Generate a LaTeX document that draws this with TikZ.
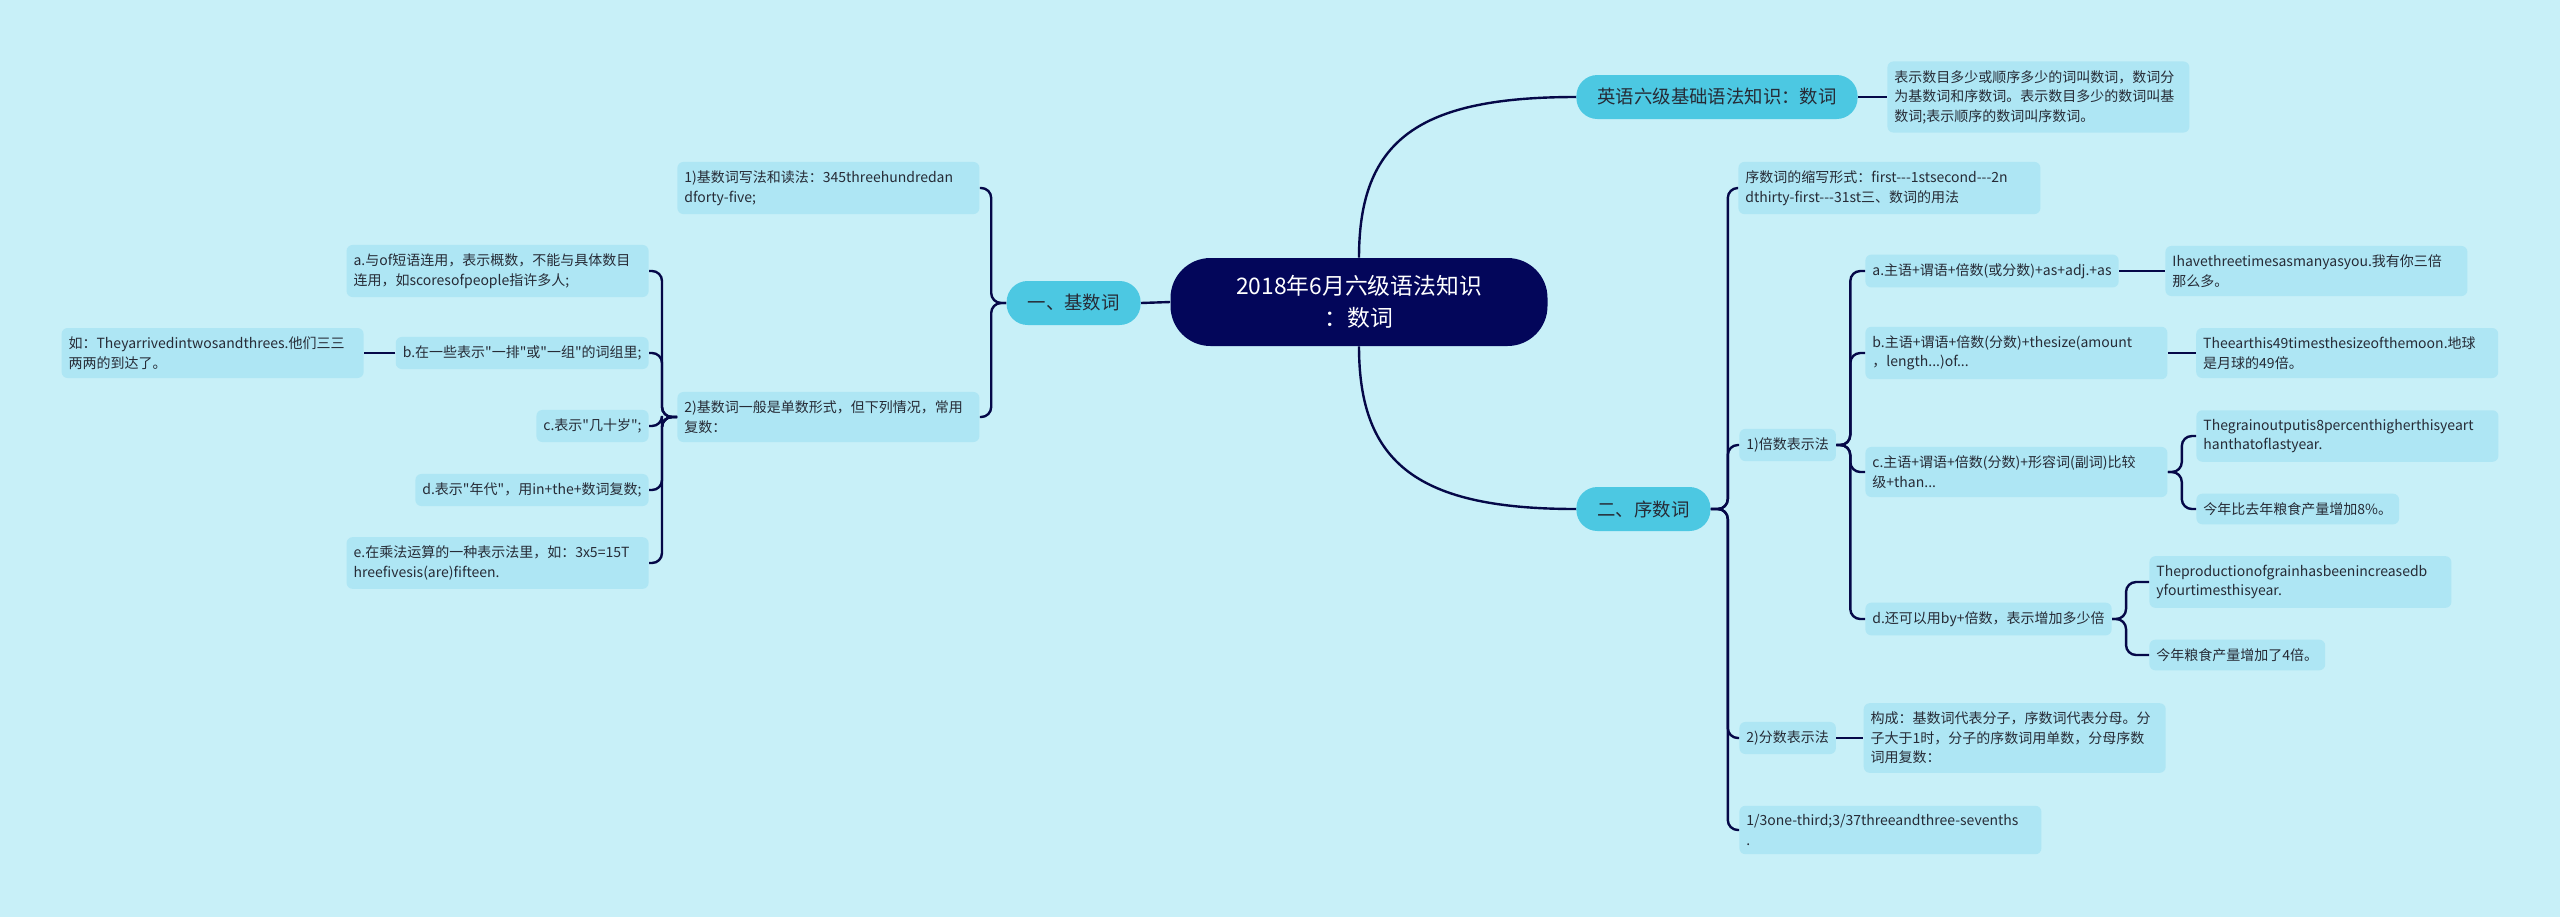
\documentclass[tikz,border=0pt]{standalone}
\usepackage{fontspec}
\setmainfont{Noto Sans CJK SC}[Ligatures=TeXOff]
\usepackage{xcolor}
\usepackage{tikz}
\usetikzlibrary{positioning}

\definecolor{bgc}{HTML}{C8F0F8}
\definecolor{rootc}{HTML}{03065A}
\definecolor{topicc}{HTML}{4CC8E2}
\definecolor{leafc}{HTML}{AEE6F4}
\definecolor{linec}{HTML}{050848}
\definecolor{textc}{HTML}{262B36}

\hyphenpenalty=10000
\exhyphenpenalty=10000

\begin{document}
\begin{tikzpicture}[
x=0.5pt, y=-0.5pt,
rootnode/.style={
fill=rootc,
text=white,
rounded corners=20pt,
align=center,
minimum width=188.5pt,
minimum height=44pt,
font=\fontsize{11.4}{16}\selectfont
},
topic/.style={
fill=topicc,
text=textc,
rounded corners=10.5pt,
inner xsep=10.5pt,
minimum height=22pt,
font=\fontsize{9.2}{11}\selectfont
},
leaf/.style={
fill=leafc,
text=textc,
rounded corners=3pt,
inner xsep=3.5pt,
inner ysep=4.4pt,
align=left,
font=\fontsize{7}{9.75}\selectfont
},
wideleaf/.style={leaf, text width=144pt},
link/.style={draw=linec, line width=1.2pt},
bracket/.style={link, rounded corners=5pt}
]

\path[use as bounding box, fill=bgc] (0,0) rectangle (2560,917);

\node[rootnode] (root) at (1359,302) {2018年6月六级语法知识\\：数词};

\node[topic, anchor=west] (intro) at (1576,97) {英语六级基础语法知识：数词};
\node[wideleaf, right=14.5pt of intro] (introtext) {表示数目多少或顺序多少的词叫数词，数词分\\为基数词和序数词。表示数目多少的数词叫基\\数词;表示顺序的数词叫序数词。};

\node[topic, anchor=east] (cardinal) at (1141,303) {一、基数词};
\node[wideleaf, anchor=west] (cardread) at (677,188) {1)基数词写法和读法：345threehundredan\\dforty-five;};
\node[wideleaf, anchor=west] (cardplural) at (677,417) {2)基数词一般是单数形式，但下列情况，常用\\复数：};
\node[wideleaf, anchor=east] (plurala) at (649,271) {a.与of短语连用，表示概数，不能与具体数目\\连用，如scoresofpeople指许多人;};
\node[leaf, anchor=east] (pluralb) at (649,353) {b.在一些表示"一排"或"一组"的词组里;};
\node[wideleaf, anchor=east] (pluralbex) at (364,353) {如：Theyarrivedintwosandthrees.他们三三\\两两的到达了。};
\node[leaf, anchor=east] (pluralc) at (649,426) {c.表示"几十岁";};
\node[leaf, anchor=east] (plurald) at (649,490) {d.表示"年代"，用in+the+数词复数;};
\node[wideleaf, anchor=east] (plurale) at (649,563) {e.在乘法运算的一种表示法里，如：3x5=15T\\hreefivesis(are)fifteen.};

\node[topic, anchor=west] (ordinal) at (1576,509) {二、序数词};
\node[wideleaf, anchor=west] (ordshort) at (1738,188) {序数词的缩写形式：first---1stsecond---2n\\dthirty-first---31st三、数词的用法};
\node[leaf, anchor=west] (times) at (1739,445) {1)倍数表示法};
\node[leaf, anchor=west] (timesa) at (1865,271) {a.主语+谓语+倍数(或分数)+as+adj.+as};
\node[wideleaf, anchor=west] (timesaex) at (2165,271) {Ihavethreetimesasmanyasyou.我有你三倍\\那么多。};
\node[wideleaf, anchor=west] (timesb) at (1865,353) {b.主语+谓语+倍数(分数)+thesize(amount\\，length...)of...};
\node[wideleaf, right=14pt of timesb] (timesbex) {Theearthis49timesthesizeofthemoon.地球\\是月球的49倍。};
\node[wideleaf, anchor=west] (timesc) at (1865,472) {c.主语+谓语+倍数(分数)+形容词(副词)比较\\级+than...};
\node[wideleaf, anchor=west] (timescen) at (2196,436) {Thegrainoutputis8percenthigherthisyeart\\hanthatoflastyear.};
\node[leaf, anchor=west] (timesczh) at (2196,509) {今年比去年粮食产量增加8\%。};
\node[leaf, anchor=west] (timesd) at (1865,619) {d.还可以用by+倍数，表示增加多少倍};
\node[wideleaf, anchor=west] (timesden) at (2149,582) {Theproductionofgrainhasbeenincreasedb\\yfourtimesthisyear.};
\node[leaf, anchor=west] (timesdzh) at (2149,655) {今年粮食产量增加了4倍。};
\node[leaf, anchor=west] (fraction) at (1739,738) {2)分数表示法};
\node[wideleaf, right=13.5pt of fraction] (fractionrule) {构成：基数词代表分子，序数词代表分母。分\\子大于1时，分子的序数词用单数，分母序数\\词用复数：};
\node[wideleaf, anchor=west] (fractionex) at (1739,830) {1/3one-third;3/37threeandthree-sevenths\\.};

\draw[link] (root.west) -- (cardinal.east);
\draw[link] (root.north) .. controls +(0,-118) and +(-157,0) .. (intro.west);
\draw[link] (root.south) .. controls +(0,118) and +(-157,0) .. (ordinal.west);
\draw[link] (intro.east) -- (introtext.west);

\draw[bracket] (cardinal.west) -- ++(-15,0) |- (cardread.east);
\draw[bracket] (cardinal.west) -- ++(-15,0) |- (cardplural.east);
\draw[bracket] (cardplural.west) -- ++(-15,0) |- (plurala.east);
\draw[bracket] (cardplural.west) -- ++(-15,0) |- (pluralb.east);
\draw[bracket] (cardplural.west) -- ++(-15,0) |- (pluralc.east);
\draw[bracket] (cardplural.west) -- ++(-15,0) |- (plurald.east);
\draw[bracket] (cardplural.west) -- ++(-15,0) |- (plurale.east);
\draw[link] (pluralb.west) -- (pluralbex.east);

\draw[bracket] (ordinal.east) -- ++(17,0) |- (ordshort.west);
\draw[bracket] (ordinal.east) -- ++(17,0) |- (times.west);
\draw[bracket] (ordinal.east) -- ++(17,0) |- (fraction.west);
\draw[bracket] (ordinal.east) -- ++(17,0) |- (fractionex.west);
\draw[bracket] (times.east) -- ++(14,0) |- (timesa.west);
\draw[bracket] (times.east) -- ++(14,0) |- (timesb.west);
\draw[bracket] (times.east) -- ++(14,0) |- (timesc.west);
\draw[bracket] (times.east) -- ++(14,0) |- (timesd.west);
\draw[link] (timesa.east) -- (timesaex.west);
\draw[link] (timesb.east) -- (timesbex.west);
\draw[bracket] (timesc.east) -- ++(14,0) |- (timescen.west);
\draw[bracket] (timesc.east) -- ++(14,0) |- (timesczh.west);
\draw[bracket] (timesd.east) -- ++(14,0) |- (timesden.west);
\draw[bracket] (timesd.east) -- ++(14,0) |- (timesdzh.west);
\draw[link] (fraction.east) -- (fractionrule.west);

\end{tikzpicture}
\end{document}
